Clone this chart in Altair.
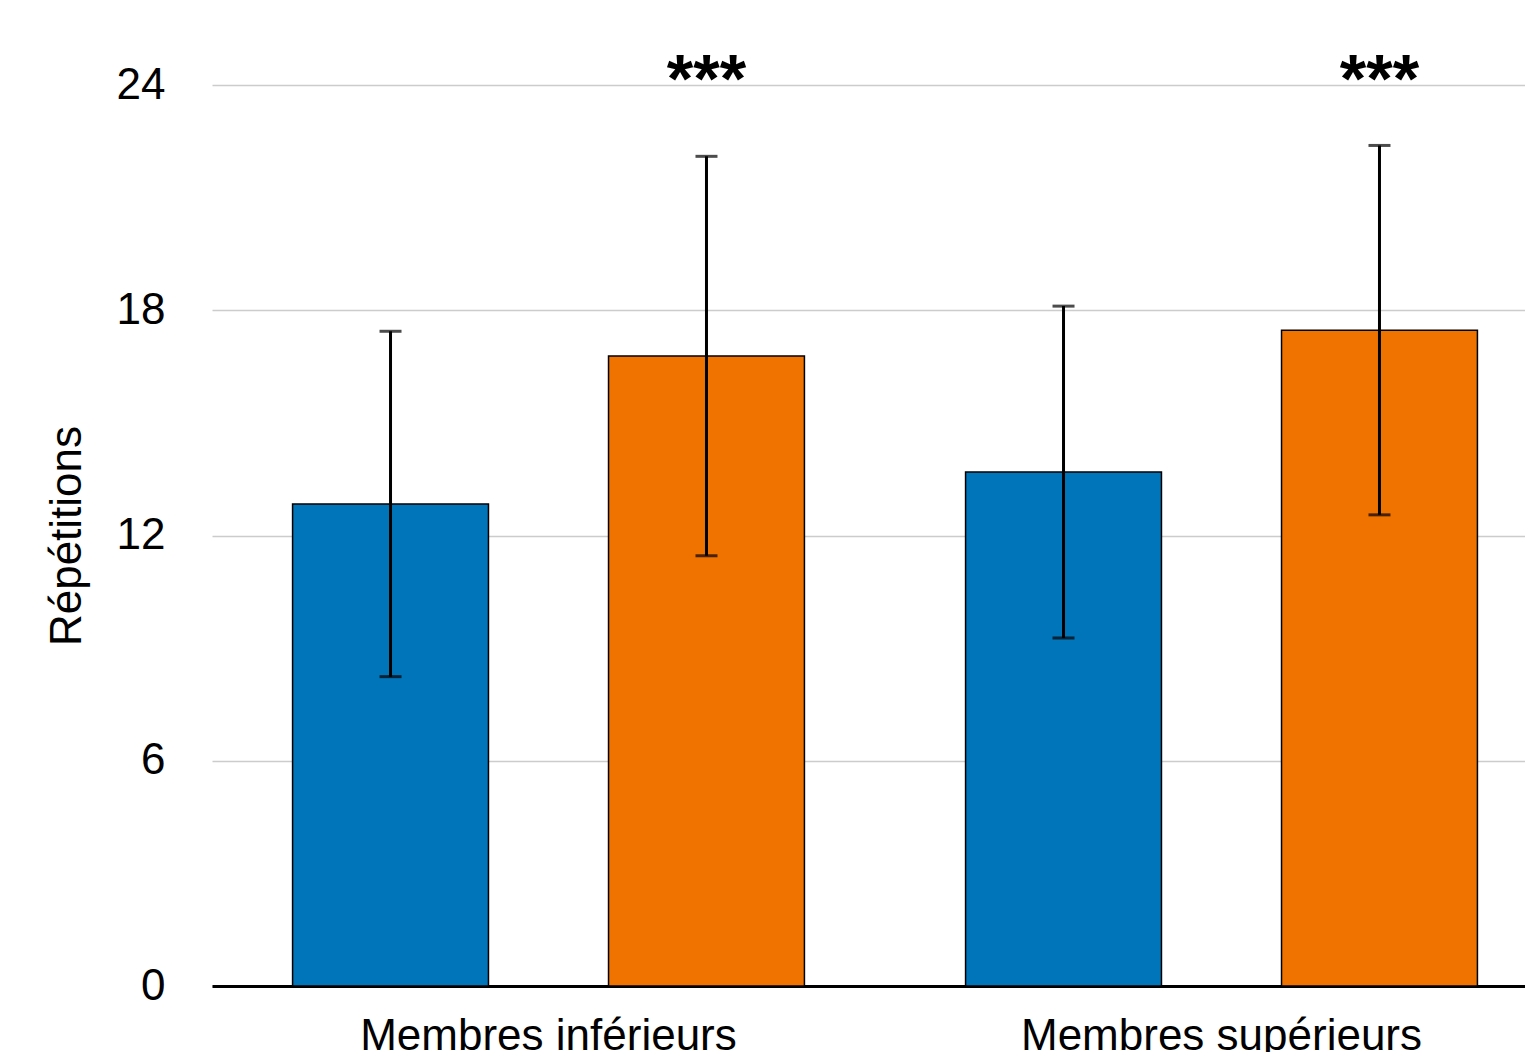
import altair as alt
import pandas as pd

# ---- data ----
categories = ["Membres inférieurs", "Membres inférieurs", "Membres supérieurs", "Membres supérieurs"]
groups = ["Groupe 1", "Groupe 2", "Groupe 1", "Groupe 2"]
means = [12.84, 16.78, 13.69, 17.47]
sds = [4.6, 5.32, 4.42, 4.92]
signif = ["", "***", "", "***"]

category_order = ["Membres inférieurs", "Membres supérieurs"]
group_order = ["Groupe 1", "Groupe 2"]
group_colors = ["#0075BA", "#F07300"]
y_ticks = [0, 6, 12, 18, 24]

df = pd.DataFrame({
    "category": categories,
    "group": groups,
    "mean": means,
    "sd": sds,
    "signif": signif,
})

FONT = "Liberation Sans"
W, H = 1313, 901

x_enc = alt.X(
    "category:N",
    sort=category_order,
    scale=alt.Scale(range=[0, 1346], paddingInner=0, paddingOuter=0),
    axis=alt.Axis(title=None, labelAngle=0, ticks=False, domainColor="black",
                  domainWidth=3, labelFontSize=44, labelPadding=28, grid=False,
                  labelLimit=0),
)
xo_enc = alt.XOffset("group:N", sort=group_order,
                     scale=alt.Scale(paddingInner=0.38, paddingOuter=0.255))
y_scale = alt.Scale(domain=[y_ticks[0], y_ticks[-1]], nice=False)
y_axis = alt.Axis(values=y_ticks, grid=True, gridColor="#cccccc", gridWidth=1.5,
                  domain=False, ticks=False, labelFontSize=44, labelPadding=47,
                  titleFontSize=44, titleFontWeight="normal", titlePadding=27)

base = alt.Chart(df).transform_calculate(
    lower="datum.mean - datum.sd", upper="datum.mean + datum.sd"
)

bars = base.mark_bar(stroke="black", strokeWidth=1.5).encode(
    x=x_enc,
    xOffset=xo_enc,
    y=alt.Y("mean:Q", scale=y_scale, axis=y_axis, title="Répétitions"),
    color=alt.Color("group:N", scale=alt.Scale(domain=group_order, range=group_colors), legend=None),
)

err = base.mark_rule(color="black", strokeWidth=3).encode(
    x=x_enc, xOffset=xo_enc,
    y=alt.Y("lower:Q", title="Répétitions"), y2="upper:Q",
)
cap_hi = base.mark_tick(color="black", size=22, thickness=3).encode(
    x=x_enc, xOffset=xo_enc, y=alt.Y("upper:Q", title="Répétitions"),
)
cap_lo = base.mark_tick(color="black", size=22, thickness=3).encode(
    x=x_enc, xOffset=xo_enc, y=alt.Y("lower:Q", title="Répétitions"),
)
stars = base.transform_filter("datum.signif != ''").mark_text(
    font=FONT, fontSize=68, fontWeight="bold", color="black",
    baseline="alphabetic", dy=17,
).encode(
    x=x_enc, xOffset=xo_enc, y=alt.datum(y_ticks[-1]), text="signif:N",
)

chart = alt.layer(bars, err, cap_hi, cap_lo, stars).properties(
    width=W, height=H,
    autosize=alt.AutoSizeParams(type="none"),
    padding={"left": 204, "top": 77, "right": 0, "bottom": 72},
).configure_view(stroke=None).configure_axis(
    labelFont=FONT, titleFont=FONT, labelColor="black", titleColor="black",
)

chart.save("out.html", embed_options={"renderer": "svg", "actions": False})
